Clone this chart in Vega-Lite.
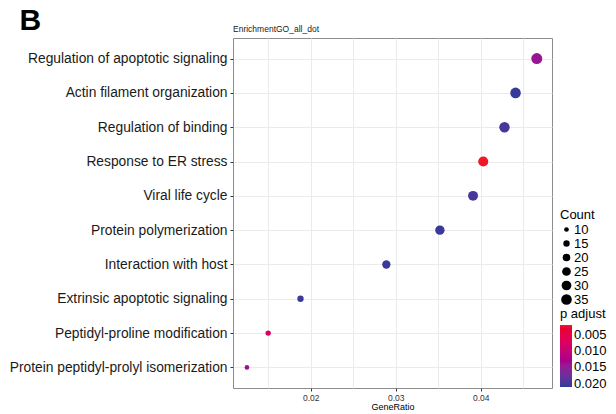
{
  "$schema": "https://vega.github.io/schema/vega-lite/v6.json",
  "width": 319,
  "height": 350,
  "autosize": {"type": "none"},
  "padding": {"left": 233, "top": 38, "right": 64, "bottom": 26},
  "background": "white",
  "title": {
    "text": "EnrichmentGO_all_dot",
    "anchor": "start",
    "frame": "group",
    "fontSize": 8.5,
    "fontWeight": "normal",
    "font": "Liberation Sans",
    "color": "#1a1a1a",
    "offset": 3,
    "dy": 31
  },
  "config": {
    "font": "Liberation Sans",
    "view": {"stroke": "#8c8c8c", "strokeWidth": 1}
  },
  "data": {
    "values": [
      {"term": "Regulation of apoptotic signaling", "GeneRatio": 0.0466, "Count": 37, "p_adjust": 0.0142},
      {"term": "Actin filament organization", "GeneRatio": 0.0441, "Count": 35, "p_adjust": 0.0208},
      {"term": "Regulation of binding", "GeneRatio": 0.0428, "Count": 34, "p_adjust": 0.0200},
      {"term": "Response to ER stress", "GeneRatio": 0.0403, "Count": 32, "p_adjust": 0.0022},
      {"term": "Viral life cycle", "GeneRatio": 0.0391, "Count": 31, "p_adjust": 0.0200},
      {"term": "Protein polymerization", "GeneRatio": 0.0352, "Count": 28, "p_adjust": 0.0207},
      {"term": "Interaction with host", "GeneRatio": 0.0289, "Count": 23, "p_adjust": 0.0206},
      {"term": "Extrinsic apoptotic signaling", "GeneRatio": 0.0188, "Count": 15, "p_adjust": 0.0204},
      {"term": "Peptidyl-proline modification", "GeneRatio": 0.0150, "Count": 12, "p_adjust": 0.0078},
      {"term": "Protein peptidyl-prolyl isomerization", "GeneRatio": 0.0125, "Count": 10, "p_adjust": 0.0138}
    ]
  },
  "mark": {"type": "circle", "opacity": 1},
  "encoding": {
    "x": {
      "field": "GeneRatio",
      "type": "quantitative",
      "scale": {"domain": [0.01086, 0.04839], "nice": false, "zero": false},
      "axis": {
        "title": "GeneRatio",
        "values": [0.015, 0.02, 0.025, 0.03, 0.035, 0.04, 0.045],
        "labelExpr": "(round(datum.value*1000) % 10 == 0) ? format(datum.value, '.2f') : ''",
        "tickOpacity": {"expr": "(round(datum.value*1000) % 10 == 0) ? 1 : 0"},
        "labelFontSize": 8.5,
        "labelColor": "#333333",
        "labelPadding": 2,
        "tickSize": 3,
        "tickColor": "#333333",
        "domain": false,
        "grid": true,
        "gridColor": "#ebebeb",
        "gridWidth": 1,
        "titleFontSize": 9,
        "titleFontWeight": "normal",
        "titleColor": "#000000",
        "titlePadding": 1
      }
    },
    "y": {
      "field": "term",
      "type": "nominal",
      "sort": null,
      "scale": {"type": "point", "padding": 0.6},
      "axis": {
        "title": "B",
        "titleAngle": 0,
        "titleAlign": "left",
        "titleBaseline": "alphabetic",
        "titleX": -214,
        "titleY": -9,
        "titleFontSize": 30,
        "titleFontWeight": "bold",
        "titleColor": "#000000",
        "labelFontSize": 13.8,
        "labelLimit": 400,
        "labelColor": "#1a1a1a",
        "labelPadding": 3,
        "tickSize": 3,
        "tickColor": "#333333",
        "domain": false,
        "grid": true,
        "gridColor": "#ebebeb",
        "gridWidth": 1
      }
    },
    "size": {
      "field": "Count",
      "type": "quantitative",
      "scale": {"domain": [10, 37], "range": [22, 120]},
      "legend": {
        "values": [10, 15, 20, 25, 30, 35],
        "orient": "none",
        "legendX": 327,
        "legendY": 171,
        "title": "Count",
        "titleFontSize": 13,
        "titleFontWeight": "normal",
        "titleColor": "#000000",
        "titlePadding": 1,
        "labelFontSize": 13,
        "labelColor": "#000000",
        "labelOffset": 1,
        "symbolFillColor": "#000000",
        "symbolStrokeWidth": 0,
        "symbolOpacity": 1,
        "rowPadding": -0.5
      }
    },
    "color": {
      "field": "p_adjust",
      "type": "quantitative",
      "scale": {"domain": [0.021, 0.002], "range": ["#323a98", "#ec1c24"], "interpolate": "hcl"},
      "legend": {
        "values": [0.005, 0.01, 0.015, 0.02],
        "format": ".3f",
        "orient": "none",
        "legendX": 327,
        "legendY": 270,
        "title": "p adjust",
        "titleFontSize": 13,
        "titleFontWeight": "normal",
        "titleColor": "#000000",
        "titlePadding": 4,
        "labelFontSize": 13,
        "labelColor": "#000000",
        "gradientLength": 62,
        "gradientThickness": 12,
        "gradientStrokeWidth": 0,
        "tickCount": 4
      }
    }
  }
}
